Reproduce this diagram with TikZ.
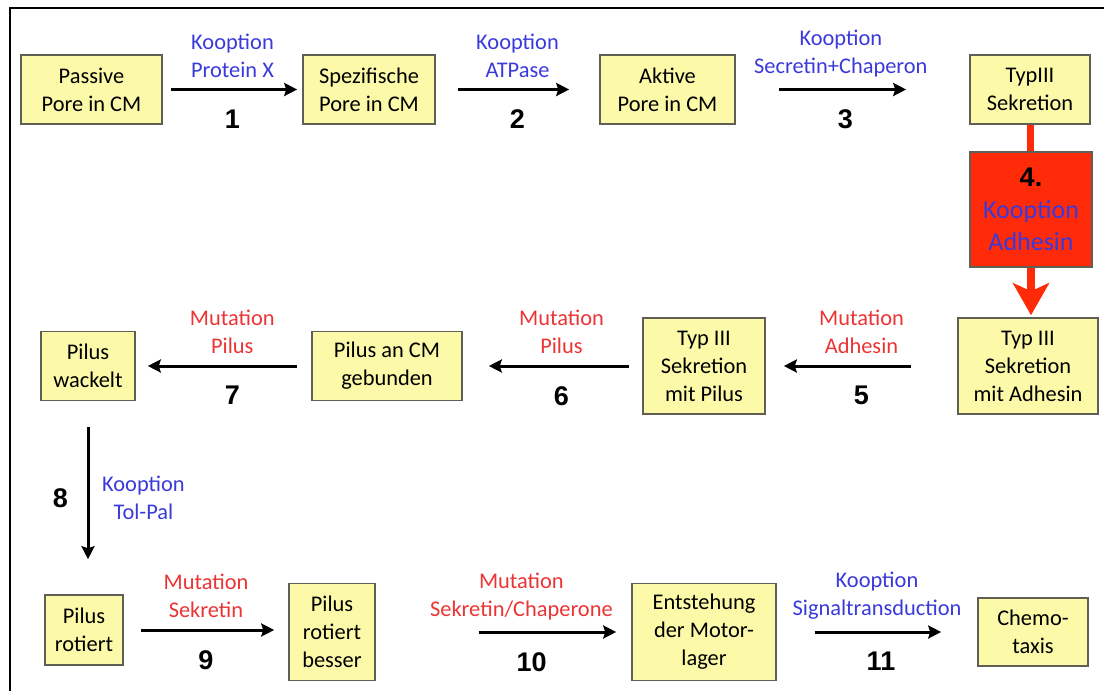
\documentclass[tikz,border=0pt]{standalone}
\usepackage{fontspec}
\setmainfont{Carlito}
\newfontfamily\numfont{Liberation Sans}
\usetikzlibrary{arrows.meta}
\definecolor{boxgelb}{RGB}{252,250,168}
\definecolor{boxrand}{RGB}{95,95,85}
\definecolor{koopblau}{RGB}{58,58,220}
\definecolor{mutrot}{RGB}{235,52,52}
\definecolor{rotbox}{RGB}{255,42,8}
\begin{document}
\begin{tikzpicture}[x=0.5pt,y=-0.5pt,
		box/.style={draw=boxrand,fill=boxgelb,line width=0.8pt,align=center,inner sep=1pt,
			font=\fontsize{11.2}{14}\selectfont},
		pfeil/.style={line width=1.5pt,-{Stealth[length=6.5pt,width=6.5pt,inset=1pt]}},
		koop/.style={text=koopblau,align=center,font=\fontsize{11.2}{14}\selectfont},
		mut/.style={text=mutrot,align=center,font=\fontsize{11.2}{14}\selectfont},
		nummer/.style={font=\numfont\bfseries\fontsize{13.5}{15}\selectfont}
	]
	\useasboundingbox (0,0) rectangle (1104,691);
	\draw[line width=1pt] (10,691) -- (10,8) -- (1104,8);

	\node[box,minimum width=70.5pt,minimum height=34.5pt] (passive) at (91.5,89.5) {Passive\\Pore in CM};
	\node[box,minimum width=66pt,minimum height=34.5pt] (spez) at (369,89.5) {Spezifische\\Pore in CM};
	\node[box,minimum width=67.5pt,minimum height=34.5pt] (aktive) at (667.5,89.5) {Aktive\\Pore in CM};
	\node[box,minimum width=60pt,minimum height=34.5pt] (typdrei) at (1030,89.5) {TypIII\\Sekretion};
	\node[draw=boxrand,fill=rotbox,line width=0.8pt,align=center,minimum width=61pt,minimum height=57.5pt,
		font=\fontsize{13}{16}\selectfont] (kooadh) at (1031,209.5)
		{{\numfont\bfseries\fontsize{13.5}{16}\selectfont 4.}\\{\color{koopblau}Kooption}\\{\color{koopblau}Adhesin}};
	\node[box,minimum width=70pt,minimum height=48pt] (adhesin) at (1028,366) {Typ III\\Sekretion\\mit Adhesin};
	\node[box,minimum width=61pt,minimum height=48pt] (pilus) at (704,366) {Typ III\\Sekretion\\mit Pilus};
	\node[box,minimum width=75pt,minimum height=34.5pt] (cm) at (387,366) {Pilus an CM\\gebunden};
	\node[box,minimum width=47pt,minimum height=34.5pt] (wackelt) at (88,366) {Pilus\\wackelt};
	\node[box,minimum width=39pt,minimum height=35pt] (rotiert) at (84,630) {Pilus\\rotiert};
	\node[box,minimum width=43pt,minimum height=48.5pt] (besser) at (332,632) {Pilus\\rotiert\\besser};
	\node[box,minimum width=72pt,minimum height=48.5pt] (motor) at (704,632) {Entstehung\\der Motor-\\lager};
	\node[box,minimum width=55pt,minimum height=34pt] (chemo) at (1033,632) {Chemo-\\taxis};

	\draw[pfeil,shorten <=4pt,shorten >=2.5pt] (passive) -- (spez)
		node[midway,above=2pt,koop] {Kooption\\Protein X} node[midway,below=6pt,nummer] {1};
	\draw[pfeil,shorten <=11pt,shorten >=15pt] (spez) -- (aktive)
		node[midway,above=2pt,koop] {Kooption\\ATPase} node[midway,below=6pt,nummer] {2};
	\draw[pfeil,shorten <=21.5pt,shorten >=31.5pt] (aktive) -- (typdrei)
		node[pos=0.45,above=2pt,koop] {Kooption\\Secretin+Chaperon} node[pos=0.47,below=6pt,nummer] {3};

	\draw[rotbox,line width=3.5pt] (typdrei) -- (typdrei |- kooadh.north);
	\draw[rotbox,line width=4pt,-{Stealth[length=16pt,width=18pt,inset=4pt]},shorten >=1pt]
		(kooadh) -- (kooadh |- adhesin.north);

	\draw[pfeil,shorten <=23pt,shorten >=9pt] (adhesin) -- (pilus)
		node[midway,above=2pt,mut] {Mutation\\Adhesin} node[midway,below=6pt,nummer] {5};
	\draw[pfeil,shorten <=6.5pt,shorten >=13pt] (pilus) -- (cm)
		node[pos=0.45,above=2pt,mut] {Mutation\\Pilus} node[pos=0.45,below=6pt,nummer] {6};
	\draw[pfeil,shorten <=7pt,shorten >=6pt] (cm) -- (wackelt)
		node[pos=0.45,above=2pt,mut] {Mutation\\Pilus} node[pos=0.45,below=6pt,nummer] {7};

	\draw[pfeil,shorten <=13pt,shorten >=17.5pt] (wackelt) -- (wackelt |- rotiert.north)
		node[midway,left=6pt,nummer] {8} node[midway,right=3pt,koop] {Kooption\\Tol-Pal};

	\draw[pfeil,shorten <=8.5pt,shorten >=7pt] (rotiert) -- (rotiert -| besser.west)
		node[midway,above=2pt,mut] {Mutation\\Sekretin} node[midway,below=6pt,nummer] {9};
	\draw[pfeil,shorten <=51.5pt,shorten >=7.5pt] (besser) -- (motor)
		node[pos=0.57,above=2pt,mut] {Mutation\\Sekretin/Chaperone} node[pos=0.61,below=6pt,nummer] {10};
	\draw[pfeil,shorten <=19pt,shorten >=18pt] (motor) -- (chemo)
		node[midway,above=2pt,koop] {Kooption\\Signaltransduction} node[pos=0.52,below=6pt,nummer] {11};
\end{tikzpicture}
\end{document}
